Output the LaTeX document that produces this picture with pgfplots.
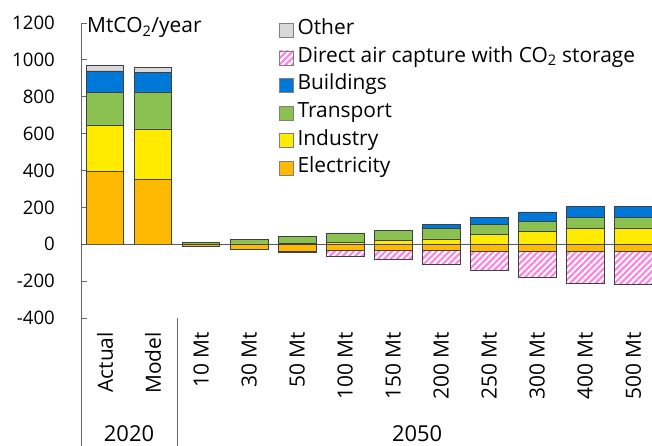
\documentclass[border=0pt]{standalone}
\usepackage{pgfplots}
\pgfplotsset{compat=1.18}
\usepackage{pgfplotstable}
\usepackage{fontspec}
\setmainfont{Open Sans}
\usetikzlibrary{patterns.meta}
\definecolor{cOther}{RGB}{217,217,217}
\definecolor{cDAC}{RGB}{255,130,225}
\definecolor{cBld}{RGB}{0,120,215}
\definecolor{cTr}{RGB}{139,193,80}
\definecolor{cInd}{RGB}{255,235,0}
\definecolor{cElec}{RGB}{255,185,0}

\pgfplotstableread{
x elecpos ind tr bld oth elecneg dac
0 393 253 178 116 33 0 0
1 352 274 200 107 27 0 0
2 0 0 12 0 0 -12 0
3 0 2 25 0 0 -28 0
4 0 3 38 0 0 -38 -5
5 0 12 50 0 0 -34 -31
6 0 20 56 0 0 -33 -47
7 0 29 58 20 0 -34 -76
8 0 53 56 35 0 -38 -104
9 0 68 56 51 0 -36 -142
10 0 87 58 62 0 -40 -173
11 0 89 58 60 0 -40 -176
}\data

\newcommand{\fnt}{\fontsize{21}{24}\selectfont}
\newcommand{\tfnt}{\fontsize{18.7}{22}\selectfont}

\pgfplotsset{
  base/.style={
    scale only axis, width=571bp, height=295bp,
    xmin=-0.5, xmax=11.39, ymin=-400, ymax=1200,
    ybar stacked, bar width=0.78,
    clip=false,
    every axis plot/.append style={draw=black!75, line width=0.6bp},
  },
}

\begin{document}
\begin{tikzpicture}[font=\fnt]
\begin{axis}[base, name=ax,
  axis lines*=left,
  x axis line style={draw=none},
  y axis line style={draw=black!60, line width=0.8bp},
  ytick={-400,-200,...,1200},
  tick align=inside,
  major tick length=6bp,
  ytick style={draw=black!60, line width=0.8bp},
  xtick={0,...,11},
  xtick style={draw=none},
  xticklabels={Actual,Model,10 Mt,30 Mt,50 Mt,100 Mt,150 Mt,200 Mt,250 Mt,300 Mt,400 Mt,500 Mt},
  xticklabel style={rotate=90, anchor=east, font=\fnt, inner sep=0pt},
  xticklabel shift=14bp,
  yticklabel style={font=\tfnt, inner sep=0pt},
  yticklabel shift=26bp,
  /pgf/number format/assume math mode=true,
  /pgf/number format/1000 sep={},
  legend image code/.code={\draw[#1] (0bp,-7bp) rectangle (14bp,7bp);},
  legend cell align=left,
  legend style={at={(rel axis cs:0.34,1.015)}, anchor=north west, draw=none, fill=none,
    font=\fnt, row sep=8.6bp,
    nodes={inner xsep=3bp, inner ysep=1bp, text height=13bp, text depth=4bp}},
]
\addlegendimage{fill=cOther, draw=gray}
\addlegendentry{Other}
\addlegendimage{pattern={Lines[angle=45,distance=4.5bp,line width=2.2bp]}, pattern color=cDAC, draw=gray}
\addlegendentry{Direct air capture with CO\textsubscript{2} storage}
\addlegendimage{fill=cBld, draw=gray}
\addlegendentry{Buildings}
\addlegendimage{fill=cTr, draw=gray}
\addlegendentry{Transport}
\addlegendimage{fill=cInd, draw=gray}
\addlegendentry{Industry}
\addlegendimage{fill=cElec, draw=gray}
\addlegendentry{Electricity}

\addplot[fill=cElec, forget plot] table[x=x, y=elecpos] {\data};
\addplot[fill=cInd, forget plot] table[x=x, y=ind] {\data};
\addplot[fill=cTr, forget plot] table[x=x, y=tr] {\data};
\addplot[fill=cBld, forget plot] table[x=x, y=bld] {\data};
\addplot[fill=cOther, forget plot] table[x=x, y=oth] {\data};

\node[anchor=base west, inner sep=0pt] at (axis cs:-0.5,1200) [xshift=6bp, yshift=-10bp] {MtCO\textsubscript{2}/year};
\draw[black!60, line width=0.8bp] (axis cs:-0.5,-400) -- (axis cs:-0.5,-1110);
\draw[black!60, line width=0.8bp] (axis cs:1.5,-400) -- (axis cs:1.5,-1110);
\node[anchor=base, inner sep=0pt, font=\fontsize{22}{26}\selectfont] at (axis cs:0.5,-400) [yshift=-123bp] {2020};
\node[anchor=base, inner sep=0pt, font=\fontsize{22}{26}\selectfont] at (axis cs:6.5,-400) [yshift=-123bp] {2050};
\end{axis}
\begin{axis}[base, hide axis, at={(ax.south west)}, anchor=south west]
\addplot[fill=cElec] table[x=x, y=elecneg] {\data};
\addplot[pattern={Lines[angle=45,distance=4.5bp,line width=2.2bp]}, pattern color=cDAC] table[x=x, y=dac] {\data};
\draw[black!65, line width=0.8bp] (axis cs:-0.5,0) -- (axis cs:11.39,0);
\end{axis}
\pgfresetboundingbox
\path[use as bounding box] ([shift={(-81bp,-128bp)}]ax.south west) rectangle ([shift={(0bp,23bp)}]ax.north east);
\end{tikzpicture}
\end{document}
